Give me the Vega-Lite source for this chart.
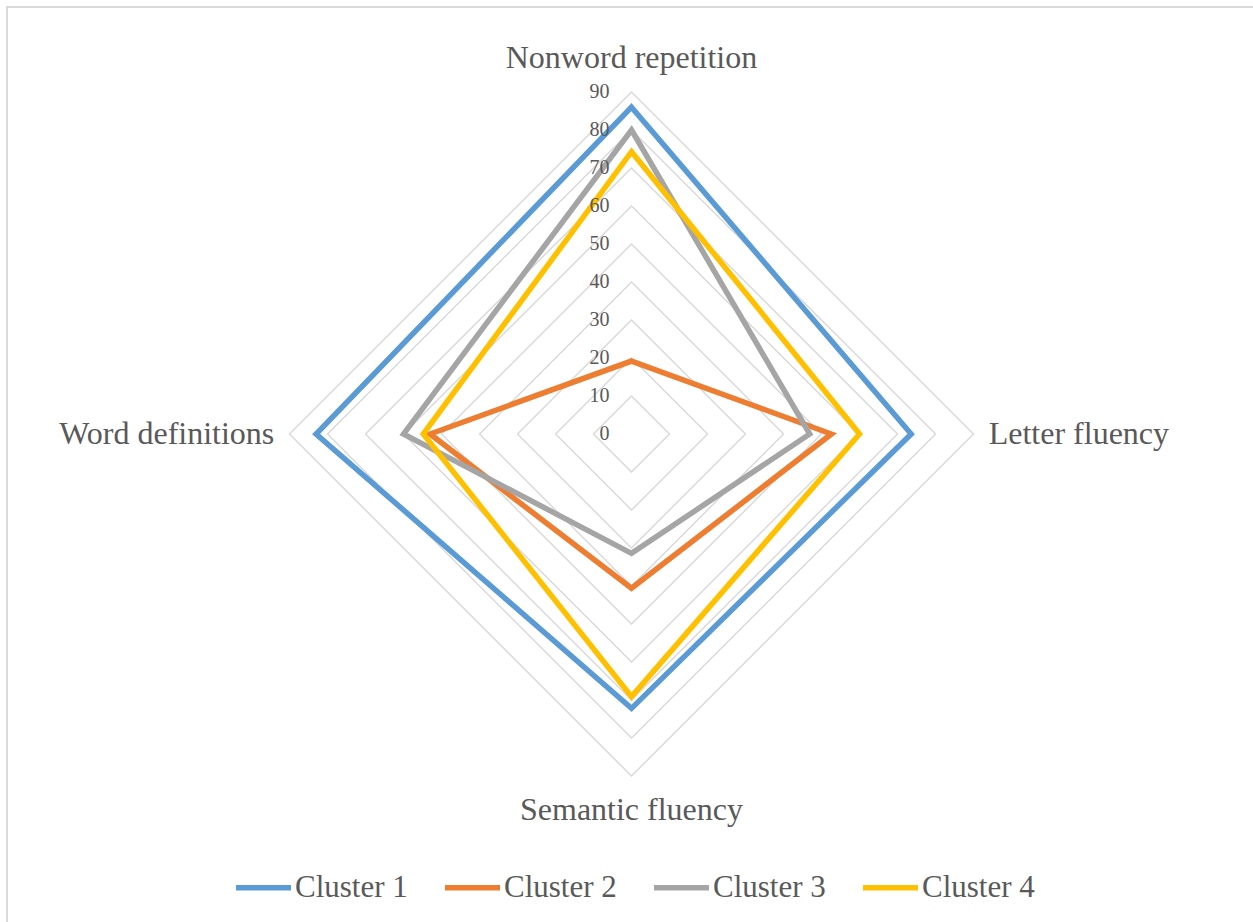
{
  "$schema": "https://vega.github.io/schema/vega-lite/v6.json",
  "width": 1256,
  "height": 925,
  "autosize": {"type": "none"},
  "padding": {"left": 7, "top": 7, "right": -10, "bottom": -10},
  "background": "white",
  "config": {
    "view": {"stroke": "#D9D9D9", "strokeWidth": 2},
    "font": "Times New Roman, Liberation Serif, serif"
  },
  "datasets": {
    "scores": [
      {"cluster": "Cluster 1", "measure": "Nonword repetition", "k": 0, "value": 86},
      {"cluster": "Cluster 1", "measure": "Letter fluency", "k": 1, "value": 73.6},
      {"cluster": "Cluster 1", "measure": "Semantic fluency", "k": 2, "value": 72.2},
      {"cluster": "Cluster 1", "measure": "Word definitions", "k": 3, "value": 83},
      {"cluster": "Cluster 2", "measure": "Nonword repetition", "k": 0, "value": 19.2},
      {"cluster": "Cluster 2", "measure": "Letter fluency", "k": 1, "value": 52.6},
      {"cluster": "Cluster 2", "measure": "Semantic fluency", "k": 2, "value": 40.6},
      {"cluster": "Cluster 2", "measure": "Word definitions", "k": 3, "value": 53},
      {"cluster": "Cluster 3", "measure": "Nonword repetition", "k": 0, "value": 80},
      {"cluster": "Cluster 3", "measure": "Letter fluency", "k": 1, "value": 46.9},
      {"cluster": "Cluster 3", "measure": "Semantic fluency", "k": 2, "value": 31.4},
      {"cluster": "Cluster 3", "measure": "Word definitions", "k": 3, "value": 60},
      {"cluster": "Cluster 4", "measure": "Nonword repetition", "k": 0, "value": 74.3},
      {"cluster": "Cluster 4", "measure": "Letter fluency", "k": 1, "value": 60},
      {"cluster": "Cluster 4", "measure": "Semantic fluency", "k": 2, "value": 69.1},
      {"cluster": "Cluster 4", "measure": "Word definitions", "k": 3, "value": 54.8}
    ],
    "grid": [
      {"level": 10, "k": 0}, {"level": 10, "k": 1}, {"level": 10, "k": 2}, {"level": 10, "k": 3},
      {"level": 20, "k": 0}, {"level": 20, "k": 1}, {"level": 20, "k": 2}, {"level": 20, "k": 3},
      {"level": 30, "k": 0}, {"level": 30, "k": 1}, {"level": 30, "k": 2}, {"level": 30, "k": 3},
      {"level": 40, "k": 0}, {"level": 40, "k": 1}, {"level": 40, "k": 2}, {"level": 40, "k": 3},
      {"level": 50, "k": 0}, {"level": 50, "k": 1}, {"level": 50, "k": 2}, {"level": 50, "k": 3},
      {"level": 60, "k": 0}, {"level": 60, "k": 1}, {"level": 60, "k": 2}, {"level": 60, "k": 3},
      {"level": 70, "k": 0}, {"level": 70, "k": 1}, {"level": 70, "k": 2}, {"level": 70, "k": 3},
      {"level": 80, "k": 0}, {"level": 80, "k": 1}, {"level": 80, "k": 2}, {"level": 80, "k": 3},
      {"level": 90, "k": 0}, {"level": 90, "k": 1}, {"level": 90, "k": 2}, {"level": 90, "k": 3}
    ],
    "ticks": [
      {"level": 0, "k": 0}, {"level": 10, "k": 0}, {"level": 20, "k": 0}, {"level": 30, "k": 0},
      {"level": 40, "k": 0}, {"level": 50, "k": 0}, {"level": 60, "k": 0}, {"level": 70, "k": 0},
      {"level": 80, "k": 0}, {"level": 90, "k": 0}
    ],
    "axes": [
      {"name": "Nonword repetition", "k": 0},
      {"name": "Letter fluency", "k": 1},
      {"name": "Semantic fluency", "k": 2},
      {"name": "Word definitions", "k": 3}
    ]
  },
  "layer": [
    {
      "data": {"name": "grid"},
      "transform": [
        {"calculate": "datum.level * sin(datum.k * PI / 2)", "as": "px"},
        {"calculate": "datum.level * cos(datum.k * PI / 2)", "as": "py"}
      ],
      "mark": {"type": "line", "interpolate": "linear-closed", "stroke": "#D9D9D9", "strokeWidth": 1.4},
      "encoding": {
        "x": {"field": "px", "type": "quantitative", "axis": null, "scale": {"domain": [-164.34, 166.18], "nice": false, "zero": false}},
        "y": {"field": "py", "type": "quantitative", "axis": null, "scale": {"domain": [-131.05, 112.37], "nice": false, "zero": false}},
        "detail": {"field": "level", "type": "nominal"},
        "order": {"field": "k", "type": "quantitative"}
      }
    },
    {
      "data": {"name": "scores"},
      "transform": [
        {"calculate": "datum.value * sin(datum.k * PI / 2)", "as": "px"},
        {"calculate": "datum.value * cos(datum.k * PI / 2)", "as": "py"}
      ],
      "mark": {"type": "line", "interpolate": "linear-closed", "strokeWidth": 5.5, "strokeJoin": "miter"},
      "encoding": {
        "x": {"field": "px", "type": "quantitative", "axis": null, "scale": {"domain": [-164.34, 166.18], "nice": false, "zero": false}},
        "y": {"field": "py", "type": "quantitative", "axis": null, "scale": {"domain": [-131.05, 112.37], "nice": false, "zero": false}},
        "order": {"field": "k", "type": "quantitative"},
        "color": {
          "field": "cluster",
          "type": "nominal",
          "scale": {"domain": ["Cluster 1", "Cluster 2", "Cluster 3", "Cluster 4"], "range": ["#5B9BD5", "#ED7D31", "#A5A5A5", "#FFC000"]},
          "legend": {
            "title": null,
            "orient": "none",
            "legendX": 226,
            "legendY": 850,
            "direction": "horizontal",
            "symbolType": "stroke",
            "symbolSize": 3025,
            "symbolStrokeWidth": 5.5,
            "labelFont": "Times New Roman, Liberation Serif, serif",
            "labelFontSize": 31,
            "labelColor": "#595959",
            "labelOffset": 1,
            "columnPadding": 26
          }
        }
      }
    },
    {
      "data": {"name": "ticks"},
      "transform": [
        {"calculate": "datum.level * sin(datum.k * PI / 2)", "as": "px"},
        {"calculate": "datum.level * cos(datum.k * PI / 2)", "as": "py"}
      ],
      "mark": {"type": "text", "align": "right", "baseline": "middle", "dx": -22, "font": "Times New Roman, Liberation Serif, serif", "fontSize": 20, "color": "#595959"},
      "encoding": {
        "x": {"field": "px", "type": "quantitative", "axis": null, "scale": {"domain": [-164.34, 166.18], "nice": false, "zero": false}},
        "y": {"field": "py", "type": "quantitative", "axis": null, "scale": {"domain": [-131.05, 112.37], "nice": false, "zero": false}},
        "text": {"field": "level", "type": "quantitative"}
      }
    },
    {
      "data": {"name": "axes"},
      "transform": [
        {"filter": "datum.k % 2 == 0"},
        {"calculate": "99 * sin(datum.k * PI / 2)", "as": "px"},
        {"calculate": "99 * cos(datum.k * PI / 2)", "as": "py"}
      ],
      "mark": {"type": "text", "align": "center", "baseline": "middle", "font": "Times New Roman, Liberation Serif, serif", "fontSize": 32, "color": "#595959"},
      "encoding": {
        "x": {"field": "px", "type": "quantitative", "axis": null, "scale": {"domain": [-164.34, 166.18], "nice": false, "zero": false}},
        "y": {"field": "py", "type": "quantitative", "axis": null, "scale": {"domain": [-131.05, 112.37], "nice": false, "zero": false}},
        "text": {"field": "name", "type": "nominal"}
      }
    },
    {
      "data": {"name": "axes"},
      "transform": [
        {"filter": "datum.k == 1"},
        {"calculate": "94 * sin(datum.k * PI / 2)", "as": "px"},
        {"calculate": "94 * cos(datum.k * PI / 2)", "as": "py"}
      ],
      "mark": {"type": "text", "align": "left", "baseline": "middle", "font": "Times New Roman, Liberation Serif, serif", "fontSize": 32, "color": "#595959"},
      "encoding": {
        "x": {"field": "px", "type": "quantitative", "axis": null, "scale": {"domain": [-164.34, 166.18], "nice": false, "zero": false}},
        "y": {"field": "py", "type": "quantitative", "axis": null, "scale": {"domain": [-131.05, 112.37], "nice": false, "zero": false}},
        "text": {"field": "name", "type": "nominal"}
      }
    },
    {
      "data": {"name": "axes"},
      "transform": [
        {"filter": "datum.k == 3"},
        {"calculate": "94 * sin(datum.k * PI / 2)", "as": "px"},
        {"calculate": "94 * cos(datum.k * PI / 2)", "as": "py"}
      ],
      "mark": {"type": "text", "align": "right", "baseline": "middle", "font": "Times New Roman, Liberation Serif, serif", "fontSize": 32, "color": "#595959"},
      "encoding": {
        "x": {"field": "px", "type": "quantitative", "axis": null, "scale": {"domain": [-164.34, 166.18], "nice": false, "zero": false}},
        "y": {"field": "py", "type": "quantitative", "axis": null, "scale": {"domain": [-131.05, 112.37], "nice": false, "zero": false}},
        "text": {"field": "name", "type": "nominal"}
      }
    }
  ]
}
